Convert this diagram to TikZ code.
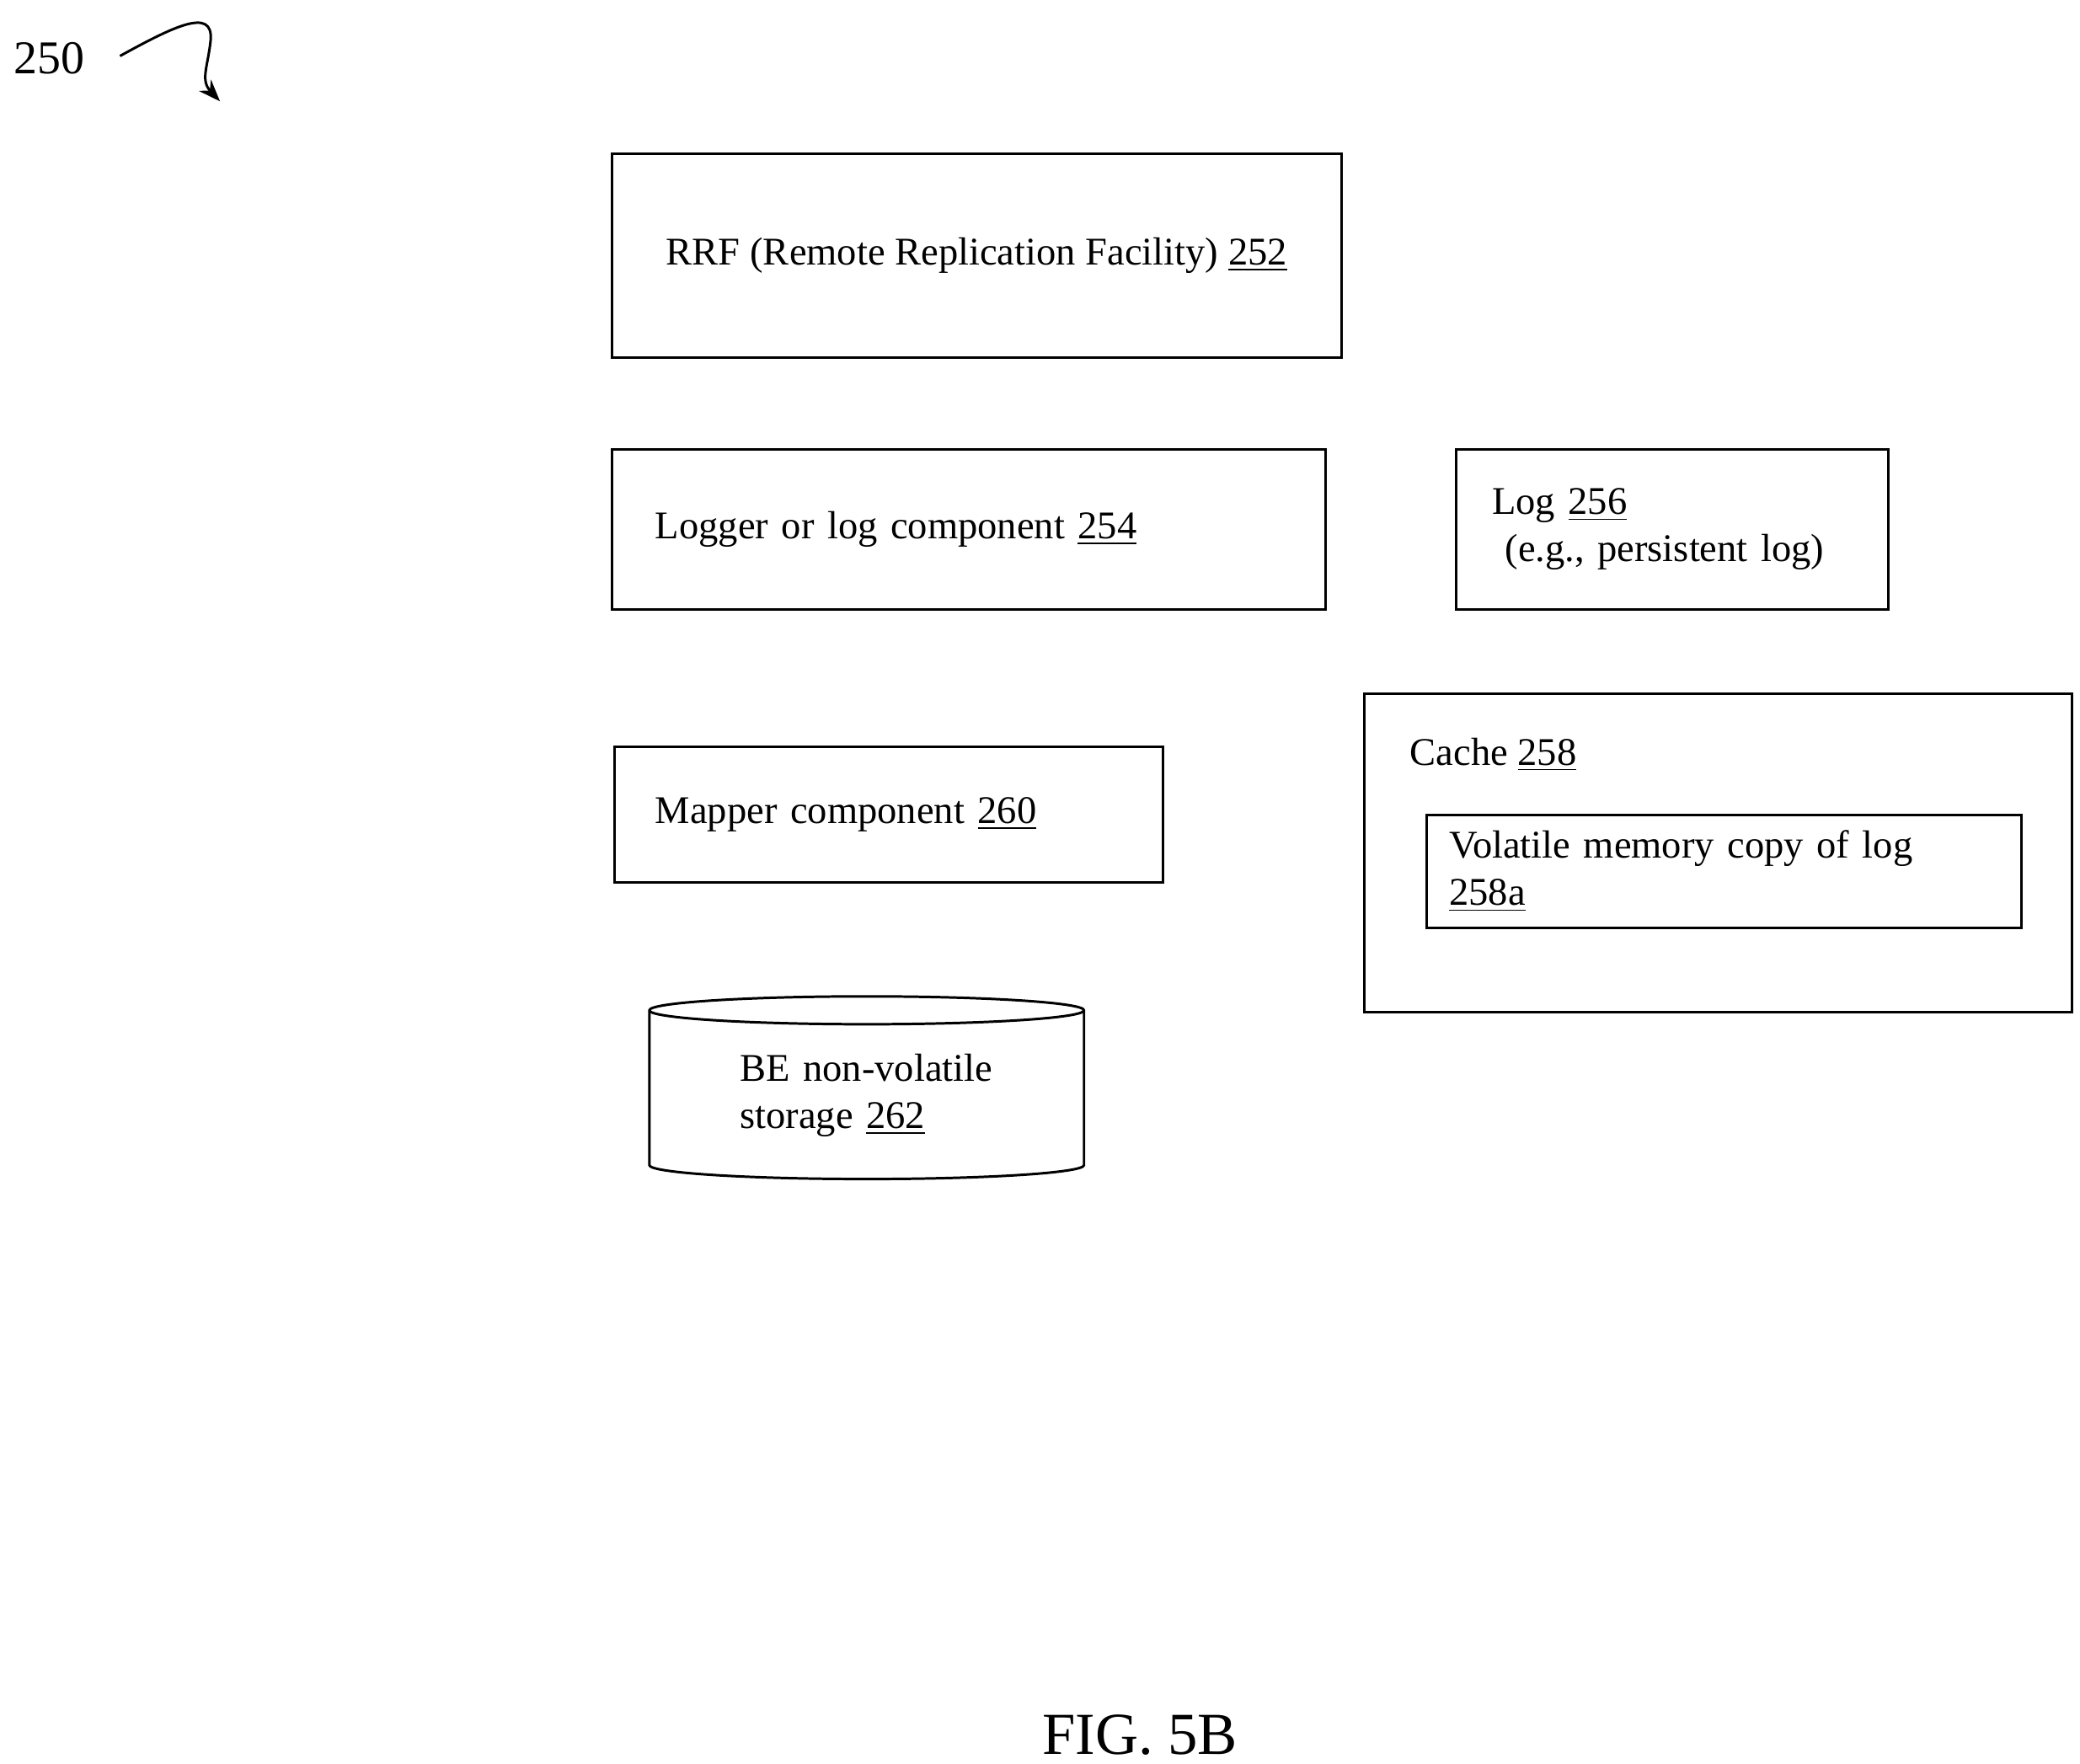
\documentclass[tikz,border=0pt]{standalone}
\usepackage{fontspec}
\setmainfont{Liberation Serif}
\usetikzlibrary{arrows.meta,shapes.geometric,positioning}
\def\u{0.425pt}
\tikzset{ % boxes in the figure
    box/.style={rectangle, draw, thick, inner sep=0pt, font=\fontsize{12.5}{15}\selectfont},
    stor/.style={cylinder, draw, thick, shape border rotate=90, aspect=0.11, inner sep=0pt, font=\fontsize{12.5}{15}\selectfont}
}
\begin{document}
\begin{tikzpicture}[x=0.425pt, y=-0.425pt]
	\useasboundingbox (0,0) rectangle (1560,1323);
	%Nodes
	\node[box, minimum width=547*\u, minimum height=153*\u] (rrf) at (732.5,191.5) {RRF (Remote Replication Facility) \underline{252}};
	\node[box, minimum width=535*\u, minimum height=120*\u, text width=470*\u, align=left] (logger) at (726.5,397) {Logger or log component \underline{254}};
	\node[box, minimum width=324*\u, minimum height=120*\u, text width=270*\u, align=left] (log) at (1254,397) {Log \underline{256}\\\ (e.g., persistent log)};
	\node[box, minimum width=531*\u, minimum height=239*\u] (cache) at (1288.5,639.5) {};
	\node[anchor=west, font=\fontsize{12.5}{15}\selectfont, inner sep=0pt] (cachelbl) at (1057,566) {Cache \underline{258}};
	\node[box, minimum width=446*\u, minimum height=85*\u, text width=412*\u, align=left] (vol) at (1293,653.5) {Volatile memory copy of log \underline{258a}};
	\node[box, minimum width=411*\u, minimum height=102*\u, text width=350*\u, align=left] (mapper) at (666.5,611) {Mapper component \underline{260}};
	\node[stor, minimum width=326*\u, minimum height=137*\u, text width=190*\u, align=left] (be) at (650,821.5) {BE non-volatile\\storage \underline{262}};
	\node[anchor=west, inner sep=0pt, font=\fontsize{15}{18}\selectfont] (ref) at (10,44) {250};
	\coordinate (tip) at (165,76);
	\draw[thick, -{Stealth[length=7pt]}] (90,42) .. controls (130,20) and (160,5) .. (158,30) .. controls (156,50) and (150,60) .. (tip);
	\node[font=\fontsize{19}{22}\selectfont] (fig) at (855,1301) {FIG. 5B};
\end{tikzpicture}
\end{document}
